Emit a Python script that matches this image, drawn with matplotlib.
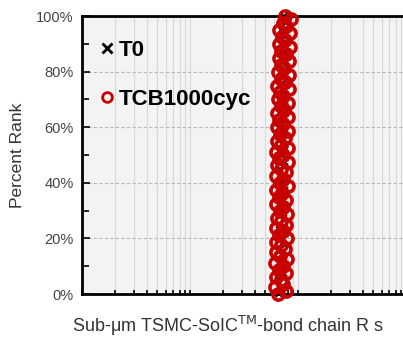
import numpy as np
import matplotlib.pyplot as plt
from matplotlib.ticker import MultipleLocator, LogLocator, NullFormatter

plt.rcParams['font.family'] = ['Liberation Sans', 'DejaVu Sans']

# Odczyt z wykresu: rezystancja lancucha (jednostki wzgledne) i ranga procentowa
rank_t0 = [0, 2.5, 5, 7.5, 10, 12.5, 15, 17.5, 20, 22.5, 25, 27.5, 30, 32.5,
           35, 37.5, 40, 42.5, 45, 47.5, 50, 52.5, 55, 57.5, 60, 62.5, 65,
           67.5, 70, 72.5, 75, 77.5, 80, 82.5, 85, 87.5, 90, 92.5, 95, 97.5,
           100]

r_t0 = [6.6, 7.2, 6.5, 7.4, 6.8, 7.1, 6.6, 7.5, 6.9, 7.3, 6.7, 7.4, 6.9, 7.2,
        6.6, 7.5, 7.0, 7.3, 6.8, 7.5, 7.0, 7.2, 6.7, 7.6, 6.9, 7.4, 6.8, 7.6,
        7.0, 7.3, 6.9, 7.7, 7.1, 7.5, 6.9, 7.7, 7.2, 7.5, 7.0, 7.8, 7.4]

rank_tcb = [0, 1.25, 2.5, 3.75, 5, 6.25, 7.5, 8.75, 10, 11.25, 12.5, 13.75,
            15, 16.25, 17.5, 18.75, 20, 21.25, 22.5, 23.75, 25, 26.25, 27.5,
            28.75, 30, 31.25, 32.5, 33.75, 35, 36.25, 37.5, 38.75, 40, 41.25,
            42.5, 43.75, 45, 46.25, 47.5, 48.75, 50, 51.25, 52.5, 53.75, 55,
            56.25, 57.5, 58.75, 60, 61.25, 62.5, 63.75, 65, 66.25, 67.5, 68.75,
            70, 71.25, 72.5, 73.75, 75, 76.25, 77.5, 78.75, 80, 81.25, 82.5,
            83.75, 85, 86.25, 87.5, 88.75, 90, 91.25, 92.5, 93.75, 95, 96.25,
            97.5, 98.75, 100]

r_tcb = [6.5, 7.8, 6.1, 7.2, 6.9, 6.2, 7.7, 6.6, 7.3, 6.1, 7.9, 6.8, 6.3,
         7.6, 6.9, 6.2, 7.9, 6.7, 7.2, 6.2, 7.8, 6.9, 6.4, 7.9, 6.8, 7.3,
         6.2, 7.8, 6.7, 7.1, 6.3, 8.0, 6.8, 7.3, 6.3, 7.8, 6.9, 6.4, 8.0,
         6.7, 7.3, 6.3, 8.0, 6.9, 6.4, 7.6, 6.8, 8.1, 6.4, 7.3, 6.7, 8.0,
         6.4, 7.4, 6.9, 8.1, 6.5, 7.3, 6.8, 8.2, 6.4, 7.6, 7.0, 8.3, 6.5,
         7.4, 6.9, 8.3, 6.6, 7.7, 7.0, 8.4, 6.6, 7.5, 7.1, 8.5, 6.7, 7.8,
         7.2, 8.6, 7.5]

fig = plt.figure(figsize=(4.03, 3.37), dpi=100)
ax = fig.add_axes([82 / 403, 43 / 337, 324 / 403, 278 / 337])
ax.set_facecolor('#f3f3f3')

ax.plot(r_t0, rank_t0, 'x', color='black', markersize=5, markeredgewidth=1.2,
        label='T0', clip_on=False, zorder=3)
ax.plot(r_tcb, rank_tcb, 'o', color='#c80000', markerfacecolor='none',
        markersize=8, markeredgewidth=2.6, label='TCB1000cyc',
        clip_on=False, zorder=4)

ax.set_xscale('log')
ax.set_xlim(0.1, 100)
ax.set_ylim(0, 100)

ax.xaxis.set_major_locator(LogLocator(base=10))
ax.xaxis.set_minor_locator(LogLocator(base=10, subs=np.arange(2, 10)))
ax.xaxis.set_major_formatter(NullFormatter())
ax.xaxis.set_minor_formatter(NullFormatter())
ax.yaxis.set_major_locator(MultipleLocator(20))
ax.yaxis.set_minor_locator(MultipleLocator(10))
ax.set_yticks(range(0, 101, 20))
ax.set_yticklabels(['{}%'.format(v) for v in range(0, 101, 20)])

ax.tick_params(direction='in', which='both', width=1.2, labelsize=10.5,
               labelcolor='#444444', pad=6)
ax.tick_params(axis='y', which='major', length=6)
ax.tick_params(axis='y', which='minor', length=5)
ax.tick_params(axis='x', which='both', length=3)

ax.grid(True, axis='x', which='both', color='#d8d8d8', linewidth=0.8)
ax.grid(True, axis='y', which='major', color='#b8b8b8', linewidth=0.8,
        linestyle=(0, (3, 2)))
for s in ax.spines.values():
    s.set_linewidth(2)

ax.set_ylabel('Percent Rank', fontsize=12.5, color='#333333', labelpad=8)
ax.set_xlabel('Sub-μm TSMC-SoIC$^{\\mathrm{TM}}$-bond chain R s',
              fontsize=13, color='#333333')
ax.xaxis.set_label_coords(-0.03, -0.07)
ax.xaxis.label.set_horizontalalignment('left')

leg = ax.legend(loc='upper left', bbox_to_anchor=(0.022, 0.955), frameon=False,
                prop={'weight': 'bold', 'size': 16}, handlelength=0.6,
                handletextpad=0.25, labelspacing=1.28, borderpad=0)
leg.legend_handles[0].set_markersize(7)
leg.legend_handles[0].set_markeredgewidth(2)
leg.legend_handles[1].set_markersize(7)
leg.legend_handles[1].set_markeredgewidth(2)

fig.savefig('out.png', dpi=100)
